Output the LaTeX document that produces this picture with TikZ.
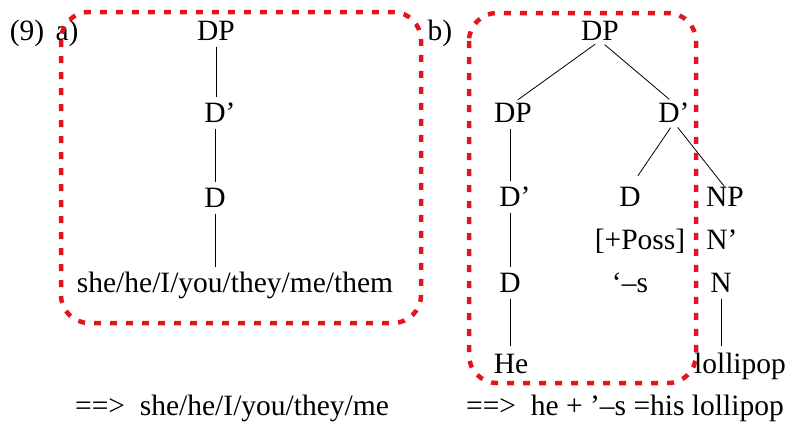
\documentclass[tikz,border=0pt]{standalone}
\usepackage{fontspec}
\setmainfont{Liberation Serif}
\usetikzlibrary{positioning}
\definecolor{boxRed}{HTML}{E3141C}
\tikzset{
  lbl/.style={inner sep=0pt, text height=19pt, text depth=0pt,
              font=\fontsize{29.5}{34}\selectfont},
  branch/.style={draw=black, line width=0.8pt, shorten <=6pt, shorten >=6pt},
  redbox/.style={draw=boxRed, line width=4.5pt, dash pattern=on 7pt off 9pt,
                 rounded corners=28pt},
}
\begin{document}
\begin{tikzpicture}[x=1pt, y=-1pt, node distance=24pt]
  \useasboundingbox (0,0) rectangle (795,424);

  % (9) a)
  \node[lbl] (exNum) at (27,31) {(9)};
  \node[lbl] (labA) at (67,31) {a)};
  \node[lbl] (dpA) at (216,31) {DP};
  \node[lbl] (dbarA) at (220,113) {D’};
  \node[lbl] (dA) at (215,198) {D};
  \node[lbl] (pron) at (235,283) {she/he/I/you/they/me/them};
  \draw[branch] (dpA.south) -- (dpA.south |- dbarA.north);
  \draw[branch] (dbarA.south -| dA) -- (dA.north);
  \draw[branch] (dA.south) -- (dA.south |- pron.north);
  \draw[redbox] (61,12) rectangle (421,323);

  % b)
  \node[lbl] (labB) at (440,31) {b)};
  \node[lbl] (dpTop) at (600,31) {DP};
  \node[lbl] (dpHe) at (513,113) {DP};
  \node[lbl] (dbarTop) at (674,113) {D’};
  \node[lbl] (dbarHe) at (515,197) {D’};
  \node[lbl] (dS) at (630,197) {D};
  \node[lbl] (np) at (725,197) {NP};
  \node[lbl, below=of dS, xshift=10pt] (poss) {[+Poss]};
  \node[lbl, below=of np, xshift=-3pt] (nbar) {N’};
  \node[lbl] (dHe) at (510,283) {D};
  \node[lbl] (sfx) at (630,283) {‘–s};
  \node[lbl] (n) at (721,283) {N};
  \node[lbl] (he) at (511,364) {He};
  \node[lbl] (lolli) at (740,364) {lollipop};
  \draw[branch] (dpTop.south) -- (dpHe.north);
  \draw[branch] (dpTop.south) -- (dbarTop.north);
  \draw[branch, shorten >=14pt] (dbarTop.south) -- (dS.north);
  \draw[branch, shorten >=1pt] (dbarTop.south) -- (np.north);
  \draw[branch] (dpHe.south -| dHe) -- (dbarHe.north -| dHe);
  \draw[branch] (dbarHe.south -| dHe) -- (dHe.north);
  \draw[branch, shorten >=8pt] (dHe.south) -- (dHe.south |- he.north);
  \draw[branch, shorten >=8pt] (n.south) -- (n.south |- lolli.north);
  \draw[redbox] (469,13) rectangle (696,383);

  % results
  \node[lbl, anchor=west] (resA) at (75,406) {==>\ \ she/he/I/you/they/me};
  \node[lbl, anchor=west] (resB) at (466,406) {==>\ \ he + ’–s =his lollipop};
\end{tikzpicture}
\end{document}
